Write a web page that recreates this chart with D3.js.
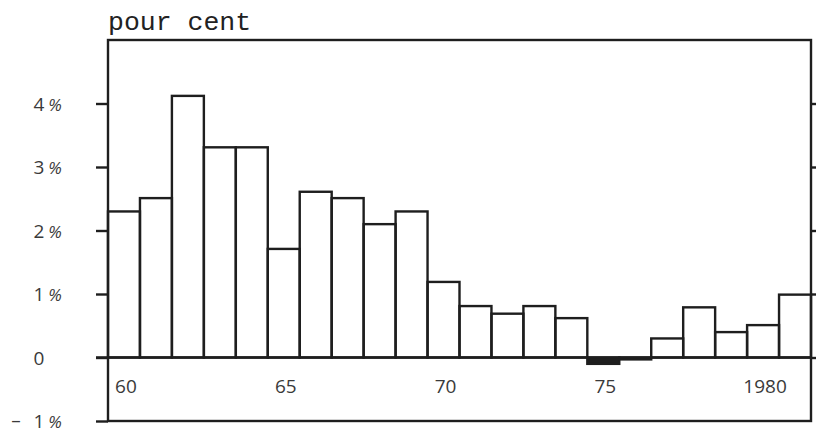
<!DOCTYPE html>
<html><head><meta charset="utf-8">
<script src="https://cdn.jsdelivr.net/npm/d3@7"></script>
<style>body{margin:0;background:#fff}svg{display:block}</style>
</head><body>
<svg id="c" width="816" height="434"></svg>
<script>
const years = d3.range(1960, 1982);
const values = [2.3, 2.51, 4.12, 3.31, 3.31, 1.71, 2.61, 2.51, 2.1, 2.3, 1.19, 0.81, 0.69, 0.81, 0.62, -0.1, -0.03, 0.3, 0.79, 0.4, 0.51, 0.99];
const yTicks = [-1, 0, 1, 2, 3, 4];
const xLabels = {1960: "60", 1965: "65", 1970: "70", 1975: "75", 1980: "1980"};
const yTitle = "pour cent";

const svg = d3.select("#c");
const L = 108, R = 811, T = 40, B = 421;
const x = d3.scaleBand().domain(years).range([L, R]).padding(0);
const y = d3.scaleLinear().domain([-1, 5]).range([B, T]);
const ink = "#1e1e1e";
const sw = 2.4;

// bars
svg.append("g").selectAll("rect").data(years).join("rect")
  .attr("x", d => x(d))
  .attr("width", x.bandwidth())
  .attr("y", (d, i) => y(Math.max(0, values[i])))
  .attr("height", (d, i) => Math.abs(y(values[i]) - y(0)))
  .attr("fill", (d, i) => values[i] < 0 ? ink : "none")
  .attr("stroke", ink).attr("stroke-width", sw);

// frame
svg.append("rect").attr("x", L).attr("y", T).attr("width", R - L).attr("height", B - T)
  .attr("fill", "none").attr("stroke", ink).attr("stroke-width", sw);

// zero line
svg.append("line").attr("x1", L - 12).attr("x2", R).attr("y1", y(0)).attr("y2", y(0))
  .attr("stroke", ink).attr("stroke-width", sw);

// left axis ticks
const ax = svg.append("g").attr("transform", `translate(${L},0)`)
  .call(d3.axisLeft(y).tickValues(yTicks).tickSize(12).tickFormat(""));
ax.select(".domain").remove();
ax.selectAll("line").attr("stroke", ink).attr("stroke-width", sw);

// right axis ticks
const ar = svg.append("g").attr("transform", `translate(${R},0)`)
  .call(d3.axisRight(y).tickValues(yTicks.filter(v => v >= 0)).tickSize(5).tickFormat(""));
ar.select(".domain").remove();
ar.selectAll("line").attr("stroke", ink).attr("stroke-width", sw);

// y labels
const lab = svg.append("g").style("font-family", "'Open Sans', sans-serif").style("font-size", "19px").attr("fill", "#3a3a3a");
yTicks.forEach(v => {
  const yy = y(v) + 7;
  lab.append("text").attr("x", 39).attr("y", yy).attr("text-anchor", "middle").text(Math.abs(v));
  if (v !== 0) lab.append("text").attr("x", 55).attr("y", yy).attr("text-anchor", "middle").style("font-style", "italic").style("font-size", "17px").text("%");
  if (v < 0) lab.append("text").attr("x", 16).attr("y", yy - 1).attr("text-anchor", "middle").text("–");
});

// x labels
svg.append("g").style("font-family", "'Open Sans', sans-serif").style("font-size", "19px").attr("fill", "#3a3a3a")
  .selectAll("text").data(Object.keys(xLabels).map(Number)).join("text")
  .attr("x", d => x(d) + x.bandwidth() / 2 + 2)
  .attr("y", y(0) + 35)
  .attr("text-anchor", "middle")
  .text(d => xLabels[d]);

// title
svg.append("text").attr("x", L).attr("y", 30)
  .style("font-family", "'Liberation Mono', 'DejaVu Sans Mono', monospace")
  .style("font-size", "26.5px").attr("fill", "#222")
  .text(yTitle);
</script>
</body></html>
